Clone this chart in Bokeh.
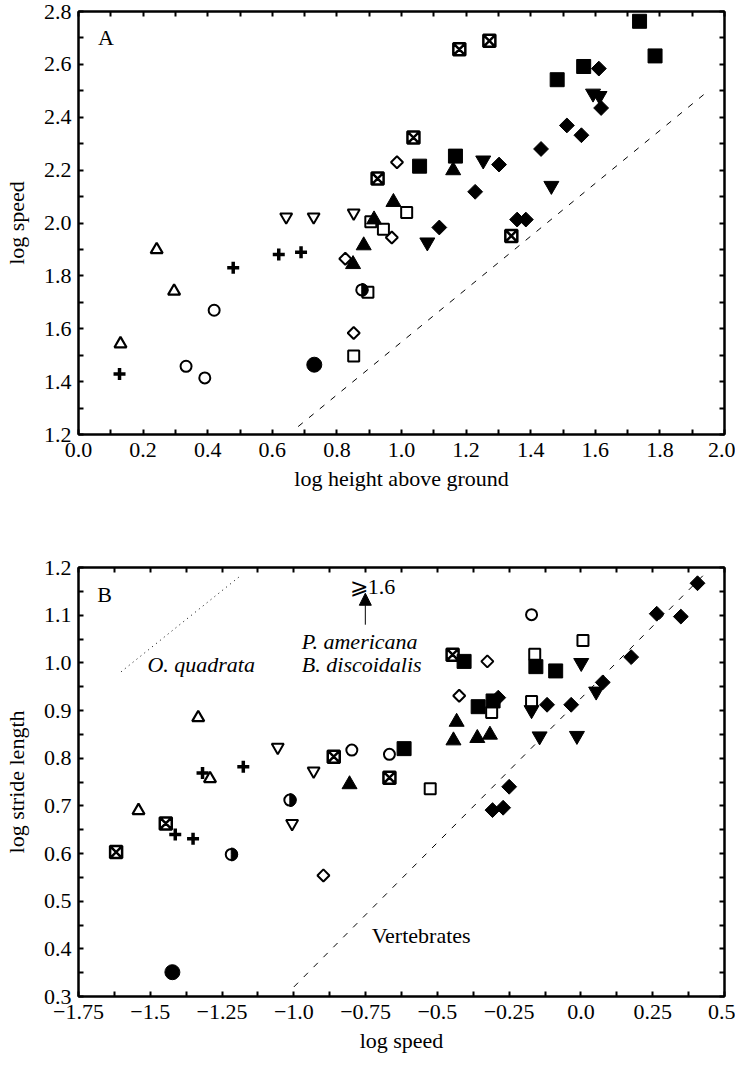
from math import pi
from bokeh.plotting import figure
from bokeh.layouts import column
from bokeh.models import FixedTicker, LinearAxis, Label, Arrow, NormalHead, Range1d
from bokeh.embed import file_html
from bokeh.resources import INLINE

FONT = "Liberation Serif"
FS = "22px"

# ---------------- Panel A: log speed vs log height above ground ----------------
a_xticks = [0.0, 0.2, 0.4, 0.6, 0.8, 1.0, 1.2, 1.4, 1.6, 1.8, 2.0]
a_xlabels = ["0.0", "0.2", "0.4", "0.6", "0.8", "1.0", "1.2", "1.4", "1.6", "1.8", "2.0"]
a_xminor = [0.1, 0.3, 0.5, 0.7, 0.9, 1.1, 1.3, 1.5, 1.7, 1.9]
a_yticks = [1.2, 1.4, 1.6, 1.8, 2.0, 2.2, 2.4, 2.6, 2.8]
a_ylabels = ["1.2", "1.4", "1.6", "1.8", "2.0", "2.2", "2.4", "2.6", "2.8"]
a_yminor = [1.3, 1.5, 1.7, 1.9, 2.1, 2.3, 2.5, 2.7]

a_fsq_x = [1.056, 1.167, 1.482, 1.564, 1.737, 1.785]
a_fsq_y = [2.215, 2.253, 2.542, 2.592, 2.763, 2.632]
a_xsq_x = [0.926, 1.037, 1.179, 1.272, 1.340]
a_xsq_y = [2.168, 2.323, 2.657, 2.689, 1.951]
a_osq_x = [0.905, 0.944, 1.016, 0.896, 0.852]
a_osq_y = [2.005, 1.976, 2.040, 1.738, 1.497]
a_odi_x = [0.986, 0.970, 0.826, 0.852]
a_odi_y = [2.230, 1.945, 1.865, 1.584]
a_fdi_x = [1.611, 1.618, 1.512, 1.557, 1.432, 1.302, 1.228, 1.117, 1.358, 1.385]
a_fdi_y = [2.584, 2.435, 2.369, 2.332, 2.280, 2.221, 2.118, 1.983, 2.013, 2.013]
a_ftr_x = [0.975, 1.160, 0.915, 0.883, 0.850]
a_ftr_y = [2.079, 2.199, 2.013, 1.915, 1.844]
a_fit_x = [1.593, 1.613, 1.253, 1.464, 1.080]
a_fit_y = [2.490, 2.481, 2.237, 2.141, 1.927]
a_oit_x = [0.643, 0.728, 0.852]
a_oit_y = [2.023, 2.023, 2.038]
a_plus_x = [0.127, 0.479, 0.620, 0.689]
a_plus_y = [1.429, 1.831, 1.881, 1.889]
a_otr_x = [0.130, 0.242, 0.296]
a_otr_y = [1.543, 1.899, 1.742]
a_oci_x = [0.333, 0.391, 0.420]
a_oci_y = [1.458, 1.414, 1.670]
a_hci_x = [0.877]
a_hci_y = [1.747]
a_fci_x = [0.730]
a_fci_y = [1.464]
a_line_x = [0.68, 1.94]
a_line_y = [1.23, 2.49]

# ---------------- Panel B: log stride length vs log speed ----------------
b_xticks = [-1.75, -1.5, -1.25, -1.0, -0.75, -0.5, -0.25, 0.0, 0.25, 0.5]
b_xlabels = ["\u22121.75", "\u22121.5", "\u22121.25", "\u22121.0", "\u22120.75",
             "\u22120.5", "\u22120.25", "0.0", "0.25", "0.5"]
b_xminor = [-1.625, -1.375, -1.125, -0.875, -0.625, -0.375, -0.125, 0.125, 0.375]
b_yticks = [0.3, 0.4, 0.5, 0.6, 0.7, 0.8, 0.9, 1.0, 1.1, 1.2]
b_ylabels = ["0.3", "0.4", "0.5", "0.6", "0.7", "0.8", "0.9", "1.0", "1.1", "1.2"]
b_yminor = [0.35, 0.45, 0.55, 0.65, 0.75, 0.85, 0.95, 1.05, 1.15]

b_fsq_x = [-0.616, -0.407, -0.358, -0.306, -0.157, -0.088]
b_fsq_y = [0.820, 1.003, 0.908, 0.920, 0.992, 0.983]
b_xsq_x = [-1.619, -1.446, -0.861, -0.667, -0.447]
b_xsq_y = [0.603, 0.663, 0.803, 0.759, 1.017]
b_osq_x = [-0.525, -0.311, -0.161, -0.172, 0.007]
b_osq_y = [0.736, 0.896, 1.018, 0.919, 1.047]
b_odi_x = [-0.897, -0.424, -0.326]
b_odi_y = [0.554, 0.931, 1.003]
b_fdi_x = [-0.288, -0.118, -0.034, 0.076, 0.175, 0.264, 0.348, 0.406, -0.250, -0.308, -0.271]
b_fdi_y = [0.927, 0.912, 0.912, 0.959, 1.012, 1.103, 1.097, 1.167, 0.740, 0.691, 0.696]
b_ftr_x = [-0.806, -0.433, -0.444, -0.361, -0.317]
b_ftr_y = [0.745, 0.876, 0.837, 0.842, 0.849]
b_fit_x = [-0.172, -0.144, -0.014, 0.001, 0.053]
b_fit_y = [0.901, 0.846, 0.847, 1.000, 0.940]
b_oit_x = [-1.056, -0.931, -1.006]
b_oit_y = [0.823, 0.773, 0.663]
b_plus_x = [-1.318, -1.176, -1.413, -1.351]
b_plus_y = [0.769, 0.782, 0.640, 0.631]
b_otr_x = [-1.333, -1.292, -1.541]
b_otr_y = [0.885, 0.757, 0.690]
b_oci_x = [-0.798, -0.667, -0.172]
b_oci_y = [0.817, 0.808, 1.101]
b_hci_x = [-1.014, -1.218]
b_hci_y = [0.712, 0.598]
b_fci_x = [-1.423]
b_fci_y = [0.351]
b_vert_x = [-1.0, 0.43]
b_vert_y = [0.32, 1.186]
b_oq_x = [-1.602, -1.185]
b_oq_y = [0.981, 1.183]


def style_axes(p, xt, xl, xm, yt, yl, ym, xlab, ylab):
    p.xaxis.ticker = FixedTicker(ticks=xt, minor_ticks=xm)
    p.yaxis.ticker = FixedTicker(ticks=yt, minor_ticks=ym)
    p.xaxis.major_label_overrides = dict(zip(xt, xl))
    p.yaxis.major_label_overrides = dict(zip(yt, yl))
    p.xaxis.axis_label = xlab
    p.yaxis.axis_label = ylab
    for ax in (p.xaxis[0], p.yaxis[0]):
        ax.axis_line_width = 2
        ax.major_tick_in = 5
        ax.major_tick_out = 0
        ax.minor_tick_in = 5
        ax.minor_tick_out = 0
        ax.major_tick_line_width = 2
        ax.minor_tick_line_width = 2
        ax.major_label_text_font = FONT
        ax.major_label_text_font_size = FS
        ax.major_label_text_color = "black"
        ax.axis_label_text_font = FONT
        ax.axis_label_text_font_size = FS
        ax.axis_label_text_font_style = "normal"
        ax.axis_label_text_color = "black"
    p.xaxis.major_label_standoff = 8
    p.xaxis.axis_label_standoff = 6
    p.yaxis.major_label_standoff = 7
    p.yaxis.axis_label_standoff = 12
    for loc, ticks in (("right", yt + ym), ("above", xt + xm)):
        ax = LinearAxis(ticker=FixedTicker(ticks=[], minor_ticks=ticks),
                        axis_line_width=2, minor_tick_in=5, minor_tick_out=0,
                        minor_tick_line_width=2, major_tick_in=0, major_tick_out=0,
                        major_label_standoff=0)
        p.add_layout(ax, loc)
    p.xgrid.visible = False
    p.ygrid.visible = False
    p.outline_line_color = "black"
    p.outline_line_width = 2
    p.background_fill_color = "white"
    p.border_fill_color = "white"


def draw_markers(p, d):
    (fsq, xsq, osq, odi, fdi, ftr, fit, oit, plus, otr, oci, hci, fci) = d
    p.scatter(osq[0], osq[1], marker="square", size=11, fill_color=None,
              line_color="black", line_width=2)
    p.scatter(xsq[0], xsq[1], marker="square_x", size=12, fill_color="white",
              line_color="black", line_width=2.5)
    p.scatter(odi[0], odi[1], marker="square", angle=pi / 4, size=8.5,
              fill_color="white", line_color="black", line_width=2)
    p.scatter(oit[0], oit[1], marker="inverted_triangle", size=12, fill_color=None,
              line_color="black", line_width=2)
    p.scatter(otr[0], otr[1], marker="triangle", size=12, fill_color=None,
              line_color="black", line_width=2.2)
    p.scatter(oci[0], oci[1], marker="circle", size=11, fill_color=None,
              line_color="black", line_width=2)
    p.scatter(hci[0], hci[1], marker="circle", size=11, fill_color="white",
              line_color="black", line_width=2)
    p.wedge(hci[0], hci[1], radius=6.5, radius_units="screen",
            start_angle=-pi / 2, end_angle=pi / 2, fill_color="black", line_color="black")
    p.scatter(plus[0], plus[1], marker="cross", size=12, line_color="black", line_width=3.5)
    p.scatter(fsq[0], fsq[1], marker="square", size=14, fill_color="black", line_color="black")
    p.scatter(fdi[0], fdi[1], marker="square", angle=pi / 4, size=10.5,
              fill_color="black", line_color="black")
    p.scatter(ftr[0], ftr[1], marker="triangle", size=15, fill_color="black", line_color="black")
    p.scatter(fit[0], fit[1], marker="inverted_triangle", size=15, fill_color="black",
              line_color="black")
    p.scatter(fci[0], fci[1], marker="circle", size=15, fill_color="black", line_color="black")


# ---------------- Figure A ----------------
pa = figure(width=735, height=534, output_backend="svg", toolbar_location=None,
            x_range=Range1d(0.0, 2.0), y_range=Range1d(1.2, 2.8),
            min_border_left=76, min_border_right=11, min_border_top=11, min_border_bottom=100)
style_axes(pa, a_xticks, a_xlabels, a_xminor, a_yticks, a_ylabels, a_yminor,
           "log height above ground", "log speed")
pa.line(a_line_x, a_line_y, line_color="black", line_width=1, line_dash="6 8")
draw_markers(pa, ((a_fsq_x, a_fsq_y), (a_xsq_x, a_xsq_y), (a_osq_x, a_osq_y),
                  (a_odi_x, a_odi_y), (a_fdi_x, a_fdi_y), (a_ftr_x, a_ftr_y),
                  (a_fit_x, a_fit_y), (a_oit_x, a_oit_y), (a_plus_x, a_plus_y),
                  (a_otr_x, a_otr_y), (a_oci_x, a_oci_y), (a_hci_x, a_hci_y),
                  (a_fci_x, a_fci_y)))
pa.add_layout(Label(x=0.06, y=2.70, text="A", text_font=FONT, text_font_size=FS,
                    text_align="left", text_baseline="middle", text_color="black"))

# ---------------- Figure B ----------------
pb = figure(width=735, height=521, output_backend="svg", toolbar_location=None,
            x_range=Range1d(-1.75, 0.5), y_range=Range1d(0.3, 1.2),
            min_border_left=76, min_border_right=11, min_border_top=33, min_border_bottom=56)
style_axes(pb, b_xticks, b_xlabels, b_xminor, b_yticks, b_ylabels, b_yminor,
           "log speed", "log stride length")
pb.line(b_vert_x, b_vert_y, line_color="black", line_width=1, line_dash="6 8")
pb.line(b_oq_x, b_oq_y, line_color="black", line_width=1, line_dash="1 4")
draw_markers(pb, ((b_fsq_x, b_fsq_y), (b_xsq_x, b_xsq_y), (b_osq_x, b_osq_y),
                  (b_odi_x, b_odi_y), (b_fdi_x, b_fdi_y), (b_ftr_x, b_ftr_y),
                  (b_fit_x, b_fit_y), (b_oit_x, b_oit_y), (b_plus_x, b_plus_y),
                  (b_otr_x, b_otr_y), (b_oci_x, b_oci_y), (b_hci_x, b_hci_y),
                  (b_fci_x, b_fci_y)))
for x, y, t, style, align in [(-1.685, 1.144, "B", "normal", "left"),
                               (-0.726, 1.160, "\u2a7e1.6", "normal", "center"),
                               (-0.972, 1.044, "P. americana", "italic", "left"),
                               (-0.972, 0.996, "B. discoidalis", "italic", "left"),
                               (-1.51, 0.996, "O.  quadrata", "italic", "left"),
                               (-0.729, 0.429, "Vertebrates", "normal", "left")]:
    pb.add_layout(Label(x=x, y=y, text=t, text_font=FONT, text_font_size=FS,
                        text_font_style=style, text_align=align,
                        text_baseline="middle", text_color="black"))
pb.add_layout(Arrow(end=NormalHead(size=12, fill_color="black", line_color="black"),
                    x_start=-0.751, y_start=1.08, x_end=-0.751, y_end=1.146,
                    line_color="black", line_width=1))

layout = column(pa, pb)
open("out.html", "w").write(file_html(layout, INLINE))
